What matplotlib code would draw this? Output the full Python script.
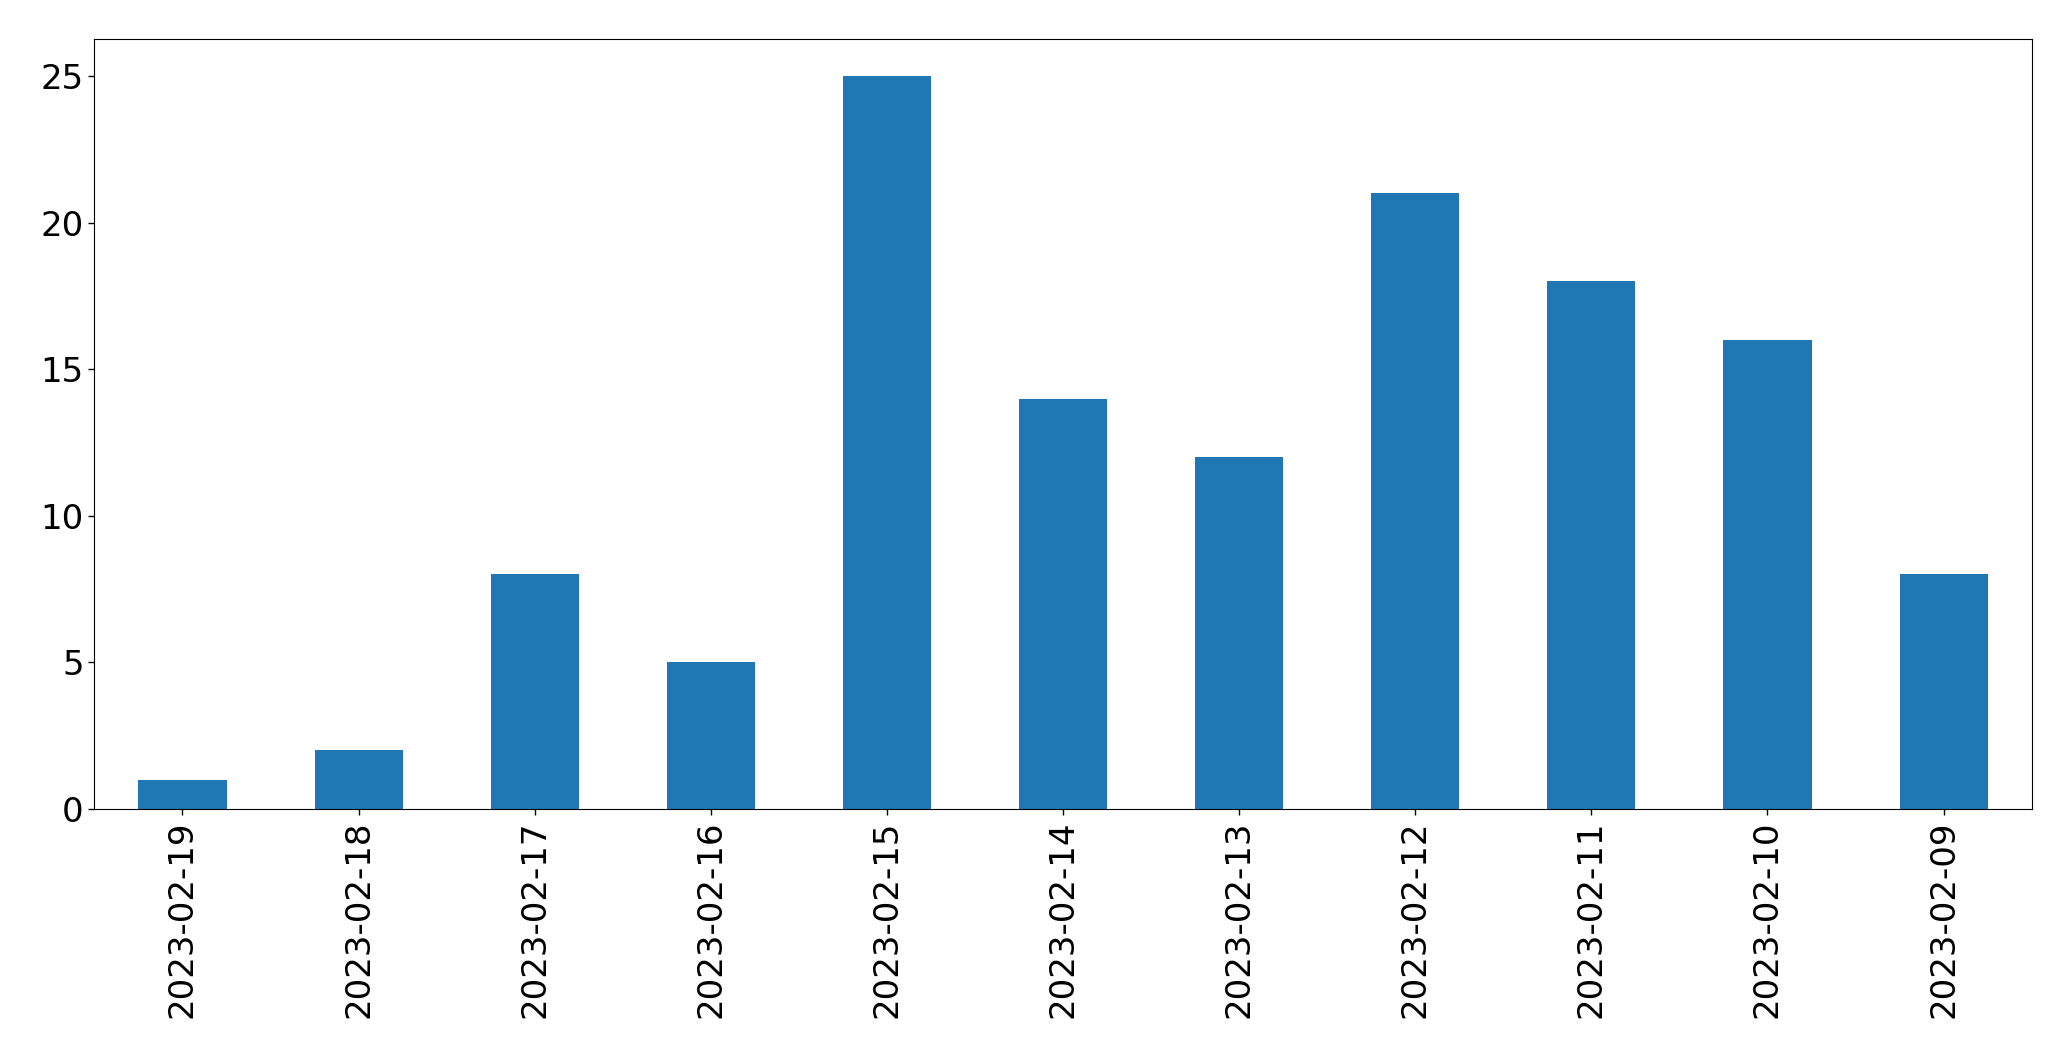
import matplotlib
matplotlib.use('Agg')
import matplotlib.pyplot as plt
import pandas as pd

# Daily counts, newest first (as in the original index order)
dates = ['2023-02-19', '2023-02-18', '2023-02-17', '2023-02-16', '2023-02-15',
         '2023-02-14', '2023-02-13', '2023-02-12', '2023-02-11', '2023-02-10',
         '2023-02-09']
counts = [1, 2, 8, 5, 25, 14, 12, 21, 18, 16, 8]

s = pd.Series(counts, index=dates)

fig = plt.figure(figsize=(20.71, 10.61), dpi=100)
ax = fig.add_axes([0.0456, 0.2375, 0.9354, 0.7253])
s.plot.bar(ax=ax, color='#1f77b4', width=0.5)

ax.tick_params(axis='both', labelsize=24.5, length=4.3, width=1)
ax.tick_params(axis='x', pad=4)
ax.set_xlim(-0.5, len(dates) - 0.5)
ax.set_ylim(0, 26.25)

fig.savefig('out.png', dpi=100)
